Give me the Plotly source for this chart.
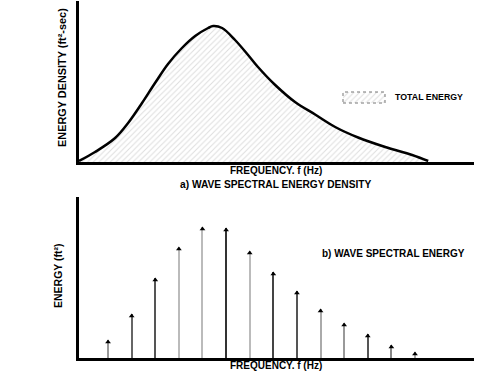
import plotly.graph_objects as go

# ---- data ----
density_freq = [-0.23, 0.45, 1.30, 1.85, 2.44, 2.99, 3.54, 4.13, 4.69, 5.24, 5.45,
                5.83, 6.38, 6.93, 7.35, 8.08, 8.92, 9.77, 10.62, 11.59, 12.74, 13.88, 14.56]
density_vals = [1, 10, 24, 39, 59, 79, 98, 114, 126, 134, 136,
                134, 122, 107, 95, 77, 60, 47.5, 35, 24.5, 15, 7, 1]

stem_freq = [1, 2, 3, 4, 5, 6, 7, 8, 9, 10, 11, 12, 13, 14]
stem_energy = [18, 44, 80, 111, 131, 130, 107, 86, 67, 49, 35, 24, 13, 6]
stem_colors = ["#999999", "#666666", "#555555", "#bbbbbb", "#bbbbbb", "#333333", "#bbbbbb",
               "#444444", "#555555", "#aaaaaa", "#999999", "#555555", "#888888", "#aaaaaa"]

legend_swatch = [1]

top_title = "a) WAVE SPECTRAL ENERGY DENSITY"
bot_title = "b) WAVE SPECTRAL ENERGY"
x_title = "FREQUENCY. f (Hz)"
y_top_title = "ENERGY DENSITY (ft²-sec)"
y_bot_title = "ENERGY (ft²)"
legend_name = "TOTAL ENERGY"

FONT = "Liberation Sans, Arial, sans-serif"
W, H = 500, 371
HATCH = dict(shape="/", size=4, solidity=0.25, fgcolor="#bbbbbb", bgcolor="white")

fig = go.Figure()

# hatched area with black curve
fig.add_trace(go.Scatter(
    x=density_freq, y=density_vals, mode="lines", fill="tozeroy",
    line=dict(color="black", width=2.5, shape="spline", smoothing=1.0),
    fillpattern=HATCH, fillcolor="white",
    name=legend_name, showlegend=False, xaxis="x", yaxis="y", hoverinfo="skip"))

# stems
fig.add_trace(go.Bar(
    x=stem_freq, y=stem_energy, width=0.085, marker=dict(color=stem_colors, line=dict(width=0)),
    showlegend=False, xaxis="x2", yaxis="y2", hoverinfo="skip"))
fig.add_trace(go.Scatter(
    x=stem_freq, y=[v - 2 for v in stem_energy], mode="markers",
    marker=dict(symbol="triangle-up", size=5, color="black"),
    showlegend=False, xaxis="x2", yaxis="y2", hoverinfo="skip"))

# legend swatch (hatched box)
fig.add_trace(go.Bar(
    x=[0], y=legend_swatch, width=1, marker=dict(color="white", pattern=HATCH, line=dict(width=0)),
    showlegend=False, xaxis="x3", yaxis="y3", hoverinfo="skip"))

def px_x(p):
    return p / W

def px_y(p):
    return 1 - p / H

xr = [-0.23, 16.5]
axis_common = dict(showgrid=False, zeroline=False, showticklabels=False, ticks="",
                   showline=True, linecolor="black", linewidth=2.5)
axis_hidden = dict(showgrid=False, zeroline=False, showticklabels=False, ticks="",
                   showline=False, fixedrange=True)

fig.update_layout(
    width=W, height=H, margin=dict(l=0, r=0, t=0, b=0),
    paper_bgcolor="white", plot_bgcolor="white",
    font=dict(family=FONT, color="black", size=10),
    xaxis=dict(domain=[px_x(79), px_x(474)], range=xr, anchor="y", **axis_common),
    yaxis=dict(domain=[px_y(162), px_y(1)], range=[0, 161], anchor="x", **axis_common),
    xaxis2=dict(domain=[px_x(79), px_x(474)], range=xr, anchor="y2", **axis_common),
    yaxis2=dict(domain=[px_y(358), px_y(197)], range=[0, 161], anchor="x2", **axis_common),
    xaxis3=dict(domain=[px_x(343), px_x(385)], range=[-0.5, 0.5], anchor="y3", **axis_hidden),
    yaxis3=dict(domain=[px_y(103), px_y(92)], range=[0, 1], anchor="x3", **axis_hidden),
    showlegend=False,
    bargap=0,
)

fig.add_shape(type="rect", xref="paper", yref="paper",
              x0=px_x(343), x1=px_x(385), y0=px_y(103), y1=px_y(92),
              line=dict(color="#777777", width=1, dash="dot"), fillcolor="rgba(0,0,0,0)")

def ann(text, x, y, size=10, angle=0, xanchor="center"):
    fig.add_annotation(text="<b>%s</b>" % text, x=px_x(x), y=px_y(y), xref="paper", yref="paper",
                       showarrow=False, textangle=angle, xanchor=xanchor, yanchor="middle",
                       font=dict(size=size, family=FONT, color="black"))

ann(y_top_title, 62, 78, size=10.9, angle=-90)
ann(x_title, 276, 170)
ann(top_title, 276, 184, size=10.2)
ann(bot_title, 320, 253, xanchor="left")
ann(y_bot_title, 58, 276, size=10.5, angle=-90)
ann(x_title, 276, 365)
ann(legend_name, 393, 97, size=8.8, xanchor="left")

fig.write_html("out.html", config={"displayModeBar": False},
               post_script="document.body.style.margin='0';")
